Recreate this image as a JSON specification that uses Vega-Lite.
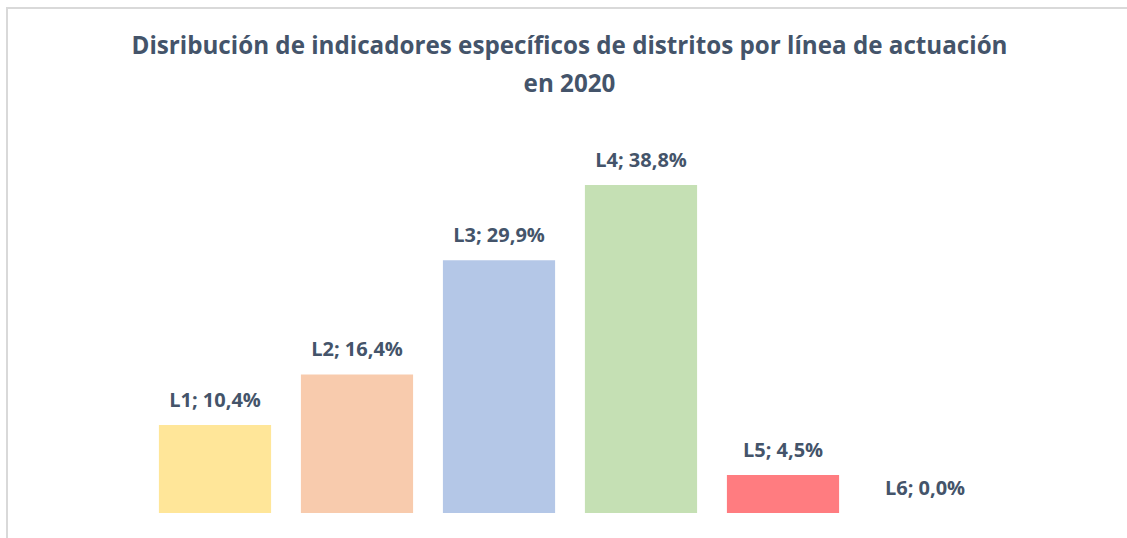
{
  "$schema": "https://vega.github.io/schema/vega-lite/v6.json",
  "autosize": "none",
  "width": 1121,
  "height": 600,
  "padding": {"left": 7, "top": 8, "right": 0, "bottom": 0},
  "background": "white",
  "config": {"view": {"stroke": "#d9d9d9", "strokeWidth": 2}},
  "title": {
    "text": ["Disribución de indicadores específicos de distritos por línea de actuación", "en 2020"],
    "font": "Open Sans",
    "fontSize": 24.2,
    "fontWeight": "bold",
    "color": "#44546a",
    "lineHeight": 38,
    "anchor": "middle",
    "offset": 0,
    "dx": 2,
    "dy": 108,
    "baseline": "alphabetic"
  },
  "data": {
    "values": [
      {"linea": "L1", "valor": 10.4, "label": "L1; 10,4%"},
      {"linea": "L2", "valor": 16.4, "label": "L2; 16,4%"},
      {"linea": "L3", "valor": 29.9, "label": "L3; 29,9%"},
      {"linea": "L4", "valor": 38.8, "label": "L4; 38,8%"},
      {"linea": "L5", "valor": 4.5, "label": "L5; 4,5%"},
      {"linea": "L6", "valor": 0.0, "label": "L6; 0,0%"}
    ]
  },
  "encoding": {
    "x": {
      "field": "linea",
      "type": "nominal",
      "sort": null,
      "scale": {"range": [137, 989], "paddingInner": 0.21, "paddingOuter": 0.105},
      "axis": null
    },
    "y": {
      "field": "valor",
      "type": "quantitative",
      "scale": {"domain": [0, 59.76], "range": [505, 0], "nice": false},
      "axis": null
    }
  },
  "layer": [
    {
      "mark": {"type": "bar"},
      "encoding": {
        "color": {
          "field": "linea",
          "type": "nominal",
          "sort": null,
          "scale": {"domain": ["L1", "L2", "L3", "L4", "L5", "L6"], "range": ["#FFE699", "#F8CBAD", "#B4C7E7", "#C5E0B4", "#FF7C80", "#D9D9D9"]},
          "legend": null
        }
      }
    },
    {
      "mark": {"type": "text", "baseline": "alphabetic", "dy": -18, "font": "Open Sans", "fontSize": 20, "fontWeight": "bold", "color": "#44546a"},
      "encoding": {"text": {"field": "label", "type": "nominal"}}
    }
  ]
}
